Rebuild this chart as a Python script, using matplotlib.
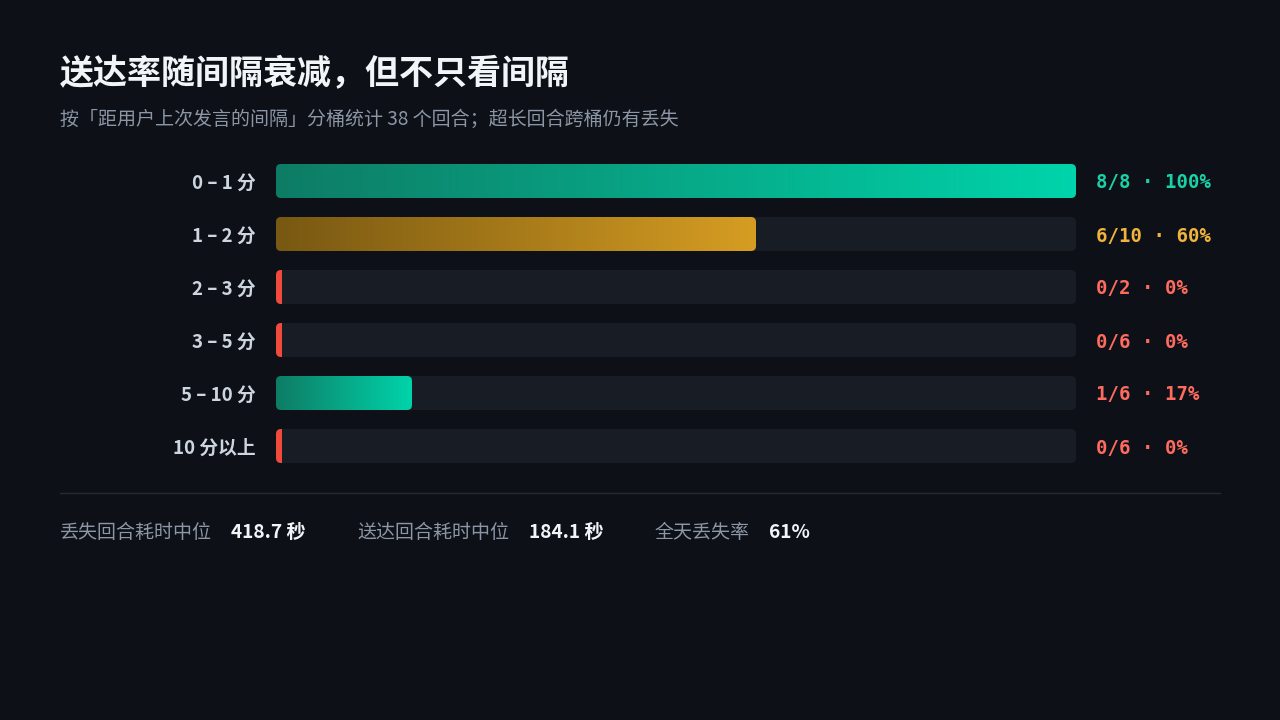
import numpy as np
import matplotlib
matplotlib.use("Agg")
import matplotlib.pyplot as plt
from matplotlib.patches import FancyBboxPatch, Rectangle
from matplotlib.colors import LinearSegmentedColormap

plt.rcParams['font.family'] = ['Noto Sans CJK SC', 'DejaVu Sans']

# data
buckets = ["0 – 1 分", "1 – 2 分", "2 – 3 分", "3 – 5 分", "5 – 10 分", "10 分以上"]
delivered = [8, 6, 0, 0, 1, 0]
totals = [8, 10, 2, 6, 6, 6]
bar_kind = ["teal", "gold", "red", "red", "teal", "red"]
label_kind = ["teal", "gold", "red", "red", "red", "red"]

footer_labels = ["丢失回合耗时中位", "送达回合耗时中位", "全天丢失率"]
footer_values = ["418.7 秒", "184.1 秒", "61%"]

title = "送达率随间隔衰减，但不只看间隔"
subtitle = "按「距用户上次发言的间隔」分桶统计 38 个回合；超长回合跨桶仍有丢失"

BG = "#0d1017"
TRACK = "#181c24"
grads = {
    "teal": ("#0e7c65", "#00d4aa"),
    "gold": ("#785812", "#d69d22"),
}
text_col = {"teal": "#19d3a8", "gold": "#f0b43c", "red": "#ff6b5f"}
STUB = "#f04a3c"

W, H = 1280, 720
fig = plt.figure(figsize=(W / 100, H / 100), dpi=100, facecolor=BG)

# bar axes placed in pixel terms
x0, x1 = 276, 1076
row_h = 53
top = 181 - row_h / 2
n = len(buckets)
ax = fig.add_axes([x0 / W, 1 - (top + n * row_h) / H, (x1 - x0) / W, n * row_h / H])
ax.set_facecolor("none")
ax.axis("off")

# shown percentages are rounded, bars follow them
rates = [round(100 * d / t) for d, t in zip(delivered, totals)]
bh = 34 / row_h
px_x = 100 / (x1 - x0)
px_y = 1 / row_h
aspect = px_y / px_x
rad = 5 * px_x
dy = 2 * px_y  # text sits a touch lower than bar centre

for i, (r, lab) in enumerate(zip(rates, buckets)):
    track = FancyBboxPatch((0, i - bh / 2), 100, bh,
                           boxstyle=f"round,pad=0,rounding_size={rad}",
                           mutation_aspect=aspect, fc=TRACK, ec="none", zorder=1)
    ax.add_patch(track)
    if r > 0:
        c0, c1 = grads[bar_kind[i]]
        cmap = LinearSegmentedColormap.from_list("g", [c0, c1])
        bar = FancyBboxPatch((0, i - bh / 2), r, bh,
                             boxstyle=f"round,pad=0,rounding_size={rad}",
                             mutation_aspect=aspect, fc="none", ec="none", zorder=2)
        ax.add_patch(bar)
        im = ax.imshow(np.linspace(0, 1, 256)[None, :], cmap=cmap, aspect="auto",
                       extent=(0, r, i + bh / 2, i - bh / 2), zorder=2,
                       interpolation="bilinear")
        im.set_clip_path(bar)
    else:
        stub = Rectangle((0, i - bh / 2), 5.5 * px_x, bh, fc=STUB, ec="none", zorder=2)
        ax.add_patch(stub)
        stub.set_clip_path(track)

    ax.text(-20 * px_x, i + dy, lab, ha="right", va="center", fontsize=13.5,
            fontweight="bold", color="#cdd5df")
    ax.text(100 + 20 * px_x, i + dy,
            f"{delivered[i]}/{totals[i]} · {r}%",
            ha="left", va="center", fontsize=13.7, fontweight="bold",
            color=text_col[label_kind[i]], family=["DejaVu Sans Mono"])

ax.set_xlim(0, 100)
ax.set_ylim(n - 0.5, -0.5)

# titles
fig.text(60 / W, 1 - 74 / H, title, fontsize=24.5, fontweight="bold",
         color="#f2f5f8", va="center", ha="left")
fig.text(60 / W, 1 - 119 / H, subtitle, fontsize=13.7, color="#8c96a5",
         va="center", ha="left")

# separator
fig.add_artist(plt.Line2D([60 / W, 1220 / W], [1 - 493 / H, 1 - 493 / H],
                          color="#252a33", lw=1))

# footer
lab_x = [60, 357, 655]
val_x = [231, 529, 769]
for lx, vx, l, v in zip(lab_x, val_x, footer_labels, footer_values):
    fig.text(lx / W, 1 - 533 / H, l, fontsize=13.7, color="#8c96a5",
             va="center", ha="left")
    fig.text(vx / W, 1 - 533 / H, v, fontsize=13.7, fontweight="bold",
             color="#f2f5f8", va="center", ha="left")

fig.savefig("out.png", dpi=100, facecolor=BG)
